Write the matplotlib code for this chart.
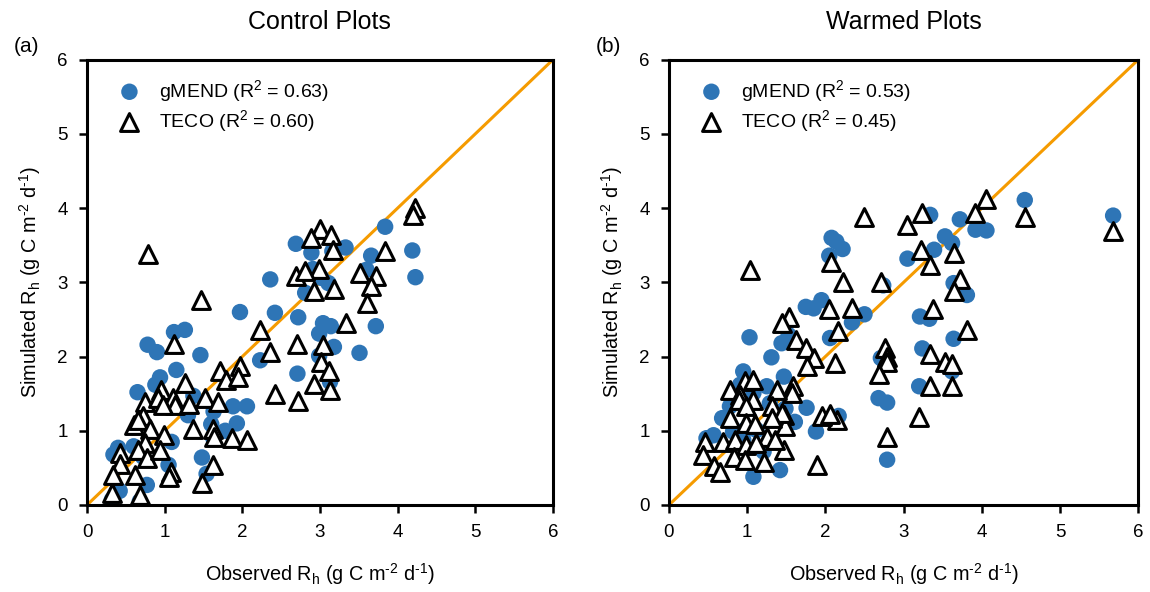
import numpy as np
import matplotlib
matplotlib.use('Agg')
import matplotlib.pyplot as plt

plt.rcParams['font.family'] = ['Liberation Sans', 'DejaVu Sans']
plt.rcParams['mathtext.default'] = 'regular'

# Control plots: observed vs simulated Rh
ctrl_mend_obs = [4.19, 4.23, 3.84, 3.66, 3.60, 3.72, 3.51, 3.33, 3.16, 2.69, 2.89, 2.91, 3.02, 3.11,
                 2.81, 2.72, 3.04, 3.14, 2.99, 3.18, 2.99, 3.13, 2.71, 2.36, 2.42, 1.97, 2.23, 1.46,
                 1.26, 1.12, 0.78, 0.90, 1.15, 0.94, 0.88, 0.65, 1.37, 1.09, 1.30, 1.63, 1.88, 2.06,
                 1.60, 1.78, 1.93, 1.63, 1.09, 0.60, 0.40, 0.34, 0.72, 1.05, 1.48, 1.54, 0.77, 0.42,
                 0.32, 0.68]
ctrl_mend_sim = [3.43, 3.07, 3.75, 3.36, 3.17, 2.41, 2.05, 3.47, 3.42, 3.52, 3.40, 3.18, 3.06, 2.99,
                 2.86, 2.53, 2.45, 2.41, 2.31, 2.13, 2.01, 1.66, 1.77, 3.04, 2.59, 2.60, 1.95, 2.02,
                 2.36, 2.33, 2.16, 2.06, 1.82, 1.72, 1.62, 1.52, 1.47, 1.37, 1.21, 1.26, 1.33, 1.33,
                 1.09, 1.00, 1.10, 0.89, 0.85, 0.79, 0.77, 0.68, 0.65, 0.54, 0.64, 0.42, 0.27, 0.19,
                 0.07, 0.05]
ctrl_teco_obs = [0.78, 1.47, 4.23, 4.20, 3.84, 3.51, 3.72, 3.66, 3.60, 3.00, 2.88, 3.14, 3.17, 2.99,
                 2.69, 2.81, 2.93, 3.18, 3.33, 2.23, 2.36, 2.71, 3.04, 3.02, 3.12, 2.93, 3.13, 2.42,
                 2.72, 1.12, 1.26, 1.71, 1.97, 1.79, 1.95, 0.95, 1.52, 1.69, 0.75, 0.92, 1.11, 1.13,
                 0.98, 1.31, 0.72, 1.37, 1.62, 1.63, 1.87, 2.06, 0.60, 0.66, 0.81, 0.99, 0.75, 0.66,
                 0.77, 0.94, 0.42, 0.42, 0.34, 0.62, 1.62, 1.48, 1.08, 1.05, 0.32, 0.68]
ctrl_teco_sim = [3.38, 2.76, 4.00, 3.91, 3.42, 3.13, 3.08, 2.95, 2.72, 3.72, 3.60, 3.64, 3.43, 3.18,
                 3.08, 3.15, 2.88, 2.91, 2.45, 2.36, 2.06, 2.17, 2.15, 1.93, 1.81, 1.63, 1.55, 1.49,
                 1.40, 2.17, 1.65, 1.80, 1.87, 1.69, 1.73, 1.55, 1.44, 1.39, 1.39, 1.44, 1.44, 1.35,
                 1.35, 1.36, 1.20, 1.03, 1.03, 0.92, 0.90, 0.88, 1.08, 1.15, 1.03, 0.94, 0.83, 0.74,
                 0.63, 0.74, 0.70, 0.55, 0.40, 0.40, 0.54, 0.30, 0.45, 0.38, 0.16, 0.13]

# Warmed plots
warm_mend_obs = [4.55, 5.68, 3.92, 4.06, 3.72, 3.34, 3.53, 3.62, 3.39, 3.05, 3.64, 3.81, 3.21, 3.33,
                 3.64, 3.24, 3.62, 3.20, 2.68, 2.79, 2.79, 2.74, 2.71, 2.08, 2.14, 2.22, 2.05, 1.75,
                 1.85, 1.95, 2.50, 2.34, 2.06, 1.53, 1.44, 1.03, 1.31, 2.17, 1.47, 1.76, 1.61, 1.47,
                 1.88, 1.42, 1.08, 0.95, 0.91, 1.08, 0.78, 0.68, 1.25, 1.29, 1.49, 0.57, 0.82, 0.95,
                 0.97, 1.12, 1.21, 0.48]
warm_mend_sim = [4.11, 3.90, 3.71, 3.70, 3.85, 3.91, 3.62, 3.53, 3.44, 3.32, 2.99, 2.83, 2.54, 2.51,
                 2.24, 2.11, 1.80, 1.60, 1.44, 1.38, 0.61, 2.96, 1.98, 3.60, 3.55, 3.45, 3.36, 2.67,
                 2.65, 2.76, 2.57, 2.46, 2.25, 2.29, 2.18, 2.26, 1.99, 1.20, 1.73, 1.31, 1.12, 1.28,
                 0.99, 0.47, 0.38, 1.80, 1.62, 1.51, 1.33, 1.17, 1.60, 1.37, 1.30, 0.94, 0.99, 0.88,
                 1.01, 1.01, 0.72, 0.90]
warm_teco_obs = [1.03, 2.49, 2.07, 2.22, 2.71, 2.05, 2.34, 2.16, 1.54, 1.44, 1.62, 1.75, 1.85, 2.76,
                 2.79, 4.55, 5.68, 4.06, 3.92, 3.24, 3.05, 3.22, 3.64, 3.34, 3.72, 3.65, 3.38, 3.81,
                 2.79, 2.68, 3.34, 3.53, 3.62, 3.34, 3.62, 3.20, 2.79, 2.15, 1.76, 2.12, 1.59, 1.57,
                 1.47, 1.49, 1.96, 2.06, 1.89, 1.47, 0.97, 1.08, 0.78, 0.91, 0.89, 1.08, 0.99, 0.78,
                 0.99, 1.10, 1.38, 1.32, 1.44, 1.32, 1.25, 1.36, 0.46, 0.69, 0.84, 0.99, 1.11, 0.44,
                 0.83, 0.97, 1.21, 0.57, 0.65]
warm_teco_sim = [3.17, 3.88, 3.27, 3.00, 3.00, 2.64, 2.65, 2.34, 2.54, 2.45, 2.23, 2.11, 1.98, 2.11,
                 2.00, 3.88, 3.69, 4.12, 3.94, 3.94, 3.77, 3.44, 3.40, 3.24, 3.05, 2.88, 2.64, 2.36,
                 1.93, 1.76, 2.04, 1.93, 1.90, 1.60, 1.60, 1.18, 0.91, 1.15, 1.87, 1.91, 1.60, 1.51,
                 1.21, 1.06, 1.20, 1.23, 0.54, 0.74, 1.67, 1.69, 1.55, 1.48, 1.42, 1.42, 1.33, 1.17,
                 1.10, 1.09, 1.55, 1.33, 1.24, 1.17, 0.91, 0.88, 0.85, 0.85, 0.88, 0.81, 0.84, 0.68,
                 0.65, 0.61, 0.58, 0.52, 0.45]

titles = ['Control Plots', 'Warmed Plots']
panel_tags = ['(a)', '(b)']
r2_mend = [0.63, 0.53]
r2_teco = [0.60, 0.45]
ticks = [0, 1, 2, 3, 4, 5, 6]

blue = '#2e75b6'
orange = '#f59b00'
unit = '(g C m$^{\u20102}$ d$^{\u20101}$)'

fig = plt.figure(figsize=(11.5, 5.92), dpi=100)
ax1 = fig.add_axes([0.0757, 0.147, 0.405, 0.752])
ax2 = fig.add_axes([0.5817, 0.147, 0.408, 0.752])

data = [
    (ctrl_mend_obs, ctrl_mend_sim, ctrl_teco_obs, ctrl_teco_sim),
    (warm_mend_obs, warm_mend_sim, warm_teco_obs, warm_teco_sim),
]

for i, ax in enumerate([ax1, ax2]):
    mo, ms, to, ts = data[i]
    ax.plot([0, 6], [0, 6], color=orange, lw=2.2, zorder=1)
    ax.scatter(mo, ms, s=140, color=blue, edgecolors='none', zorder=2,
               label='gMEND (R$^2$ = %.2f)' % r2_mend[i])
    ax.scatter(to, ts, s=165, marker='^', facecolors='white', edgecolors='black',
               linewidths=2.2, zorder=3,
               label='TECO (R$^2$ = %.2f)' % r2_teco[i])
    ax.set_xlim(0, 6)
    ax.set_ylim(0, 6)
    ax.set_xticks(ticks)
    ax.set_yticks(ticks)
    ax.tick_params(direction='out', length=6, width=1.8, labelsize=13.5, pad=8)
    for sp in ax.spines.values():
        sp.set_linewidth(2.2)
    ax.set_xlabel('Observed R$_h$ ' + unit, fontsize=14.3, labelpad=14)
    ax.set_ylabel('Simulated R$_h$ ' + unit, fontsize=14.3, labelpad=10)
    ax.set_title(titles[i], fontsize=18, pad=22)
    ax.legend(loc='upper left', bbox_to_anchor=(0.02, 0.99), frameon=False, fontsize=14,
              handletextpad=0.5, labelspacing=0.2, borderaxespad=0.3)

fig.text(0.012, 0.912, panel_tags[0], fontsize=15)
fig.text(0.518, 0.912, panel_tags[1], fontsize=15)

fig.savefig('out.png', dpi=100)
